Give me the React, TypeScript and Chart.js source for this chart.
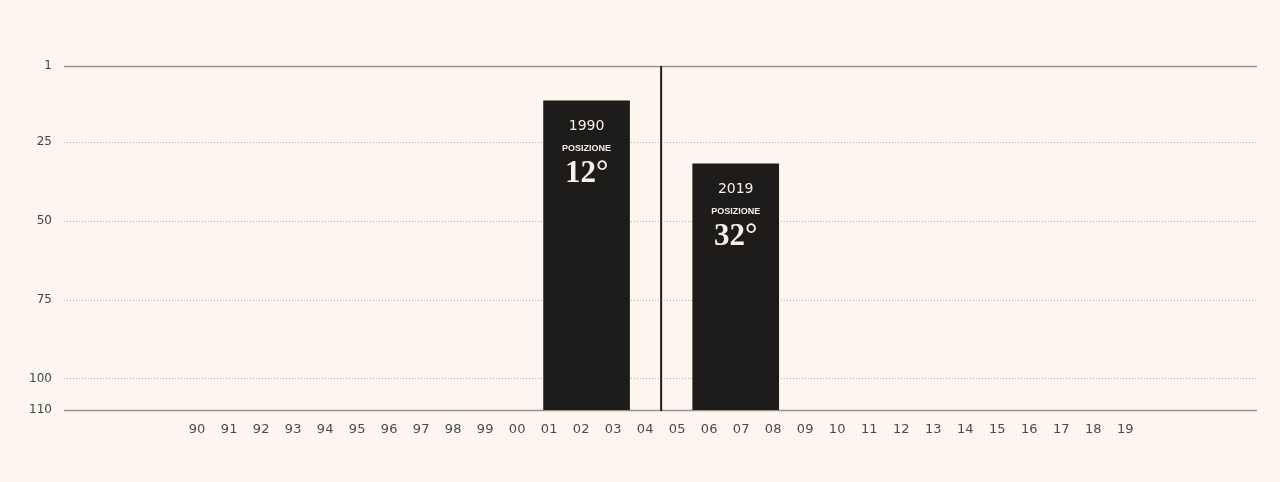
import React, { useEffect, useRef } from "react";
import Chart from "chart.js/auto";

// x axis: two-digit years 1990 → 2019
const YEARS = [
  "90", "91", "92", "93", "94", "95", "96", "97", "98", "99",
  "00", "01", "02", "03", "04", "05", "06", "07", "08", "09",
  "10", "11", "12", "13", "14", "15", "16", "17", "18", "19",
];

// ranking (1 = top), reversed y axis
const Y_TICKS = [1, 25, 50, 75, 100, 110];
const Y_MIN = 1;
const Y_MAX = 110;

// the two highlighted bars
const BAR_YEARS = ["1990", "2019"];
const BAR_POSITIONS = [12, 32];
const BAR_X = [12.17, 16.83]; // index on the year axis
const DIVIDER_X = 14.5; // between 04 and 05

const X_MIN = -4.16;
const X_MAX = 33.12;

const BG = "#fdf6ef";
const INK = "#1d1c1a";

export default function App() {
  const canvasRef = useRef<HTMLCanvasElement | null>(null);

  useEffect(() => {
    document.body.style.margin = "0";
    document.body.style.background = BG;
    if (!canvasRef.current) return;
    const ctx = canvasRef.current.getContext("2d");
    if (!ctx) return;

    const chart = new Chart(ctx, {
      type: "bar",
      data: {
        datasets: [
          {
            data: BAR_X.map((x, i) => ({ x, y: [Y_MAX, BAR_POSITIONS[i]] })) as any,
            backgroundColor: INK,
            barThickness: 86,
            borderWidth: 0,
            borderSkipped: false,
          },
        ],
      },
      options: {
        responsive: false,
        animation: false,
        layout: { padding: { top: 66, right: 23, left: 0, bottom: 0 } },
        plugins: {
          legend: { display: false },
          tooltip: { enabled: false },
        },
        scales: {
          x: {
            type: "linear",
            min: X_MIN,
            max: X_MAX,
            offset: false,
            grid: { display: false, drawTicks: false },
            border: { display: false },
            afterBuildTicks: (scale: any) => {
              scale.ticks = YEARS.map((_, i) => ({ value: i }));
            },
            afterFit: (scale: any) => {
              scale.height = 72;
            },
            ticks: {
              autoSkip: false,
              maxRotation: 0,
              padding: 12,
              color: "#4a4a4a",
              font: { family: "DejaVu Sans", size: 13 },
              callback: (v: any) => YEARS[v as number] ?? "",
            },
          },
          y: {
            type: "linear",
            reverse: true,
            min: Y_MIN,
            max: Y_MAX,
            grid: { display: false, drawTicks: false },
            border: { display: false },
            afterBuildTicks: (scale: any) => {
              scale.ticks = Y_TICKS.map((value) => ({ value }));
            },
            afterFit: (scale: any) => {
              scale.width = 64;
            },
            ticks: {
              padding: 12,
              color: "#444",
              font: { family: "DejaVu Sans", size: 12 },
            },
          },
        },
      },
      plugins: [
        {
          id: "rankGrid",
          beforeDatasetsDraw: (c) => {
            const { ctx: g, chartArea, scales } = c;
            g.save();
            Y_TICKS.forEach((v) => {
              const py = Math.round(scales.y.getPixelForValue(v)) + 0.5;
              const solid = v === Y_MIN || v === Y_MAX;
              g.beginPath();
              g.setLineDash(solid ? [] : [1, 2]);
              g.strokeStyle = solid ? "#9b948e" : "#b5aea8";
              g.lineWidth = solid ? 1.6 : 1;
              g.moveTo(chartArea.left, py);
              g.lineTo(chartArea.right, py);
              g.stroke();
            });
            g.restore();
          },
          afterDatasetsDraw: (c) => {
            const { ctx: g, scales } = c;
            g.save();
            // divider
            const dx = scales.x.getPixelForValue(DIVIDER_X);
            g.beginPath();
            g.strokeStyle = INK;
            g.lineWidth = 2;
            g.moveTo(dx, scales.y.getPixelForValue(Y_MIN));
            g.lineTo(dx, scales.y.getPixelForValue(Y_MAX) + 1);
            g.stroke();

            // bar labels
            g.fillStyle = "#f5f0ea";
            g.textAlign = "center";
            g.textBaseline = "middle";
            BAR_X.forEach((x, i) => {
              const cx = scales.x.getPixelForValue(x);
              const top = scales.y.getPixelForValue(BAR_POSITIONS[i]);
              g.font = "14px 'DejaVu Sans'";
              g.fillText(BAR_YEARS[i], cx, top + 26);
              g.font = "bold 9px 'Liberation Sans'";
              g.fillText("POSIZIONE", cx, top + 48);
              g.font = "bold 31px 'Liberation Serif'";
              g.fillText(`${BAR_POSITIONS[i]}°`, cx, top + 73);
            });
            g.restore();
          },
        },
      ],
    });

    return () => {
      chart.destroy();
    };
  }, []);

  return (
    <div style={{ width: 1280, height: 482, background: BG }}>
      <canvas ref={canvasRef} width={1280} height={482} />
    </div>
  );
}
